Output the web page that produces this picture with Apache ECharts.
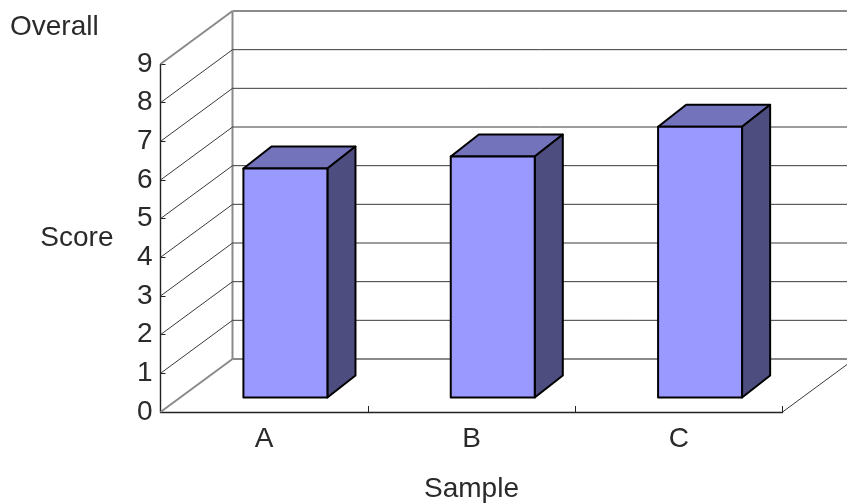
<!DOCTYPE html>
<html><head><meta charset="utf-8">
<style>html,body{margin:0;padding:0;background:#fff}#c{width:847px;height:504px}</style>
<script src="https://cdn.jsdelivr.net/npm/echarts@6/dist/echarts.min.js"></script>
</head><body><div id="c"></div>
<script>
const categories = ['A', 'B', 'C'];
const scores = [5.92, 6.23, 7.0];
const levels = [0, 1, 2, 3, 4, 5, 6, 7, 8, 9];
const DX = 72, DY = -53;
const FONT = '"Liberation Sans", Arial, sans-serif';
const FS = 28;
const chart = echarts.init(document.getElementById('c'), null, {renderer: 'canvas'});

function wallItem(params, api) {
  const lv = api.value(0), cs = params.coordSys;
  const p = api.coord([0, lv]);
  const y = p[1], x0 = cs.x, x1 = cs.x + cs.width;
  const edge = lv === 0 || lv === 9;
  const grey = {stroke: '#8a8a8a', lineWidth: 2, fill: null};
  const thin = {stroke: '#3a3a3a', lineWidth: 1, fill: null};
  const kids = [
    {type: 'line', shape: {x1: x0, y1: y, x2: x0 + DX, y2: y + DY}, style: edge ? grey : thin},
    {type: 'line', shape: {x1: x0 + DX, y1: y + DY, x2: x1 + DX, y2: y + DY}, style: edge ? grey : thin}
  ];
  if (lv === 0) {
    kids.push({type: 'line', shape: {x1: x1, y1: y, x2: x1 + DX, y2: y + DY}, style: thin});
    const top = api.coord([0, 9])[1];
    kids.push({type: 'line', shape: {x1: x0 + DX, y1: y + DY, x2: x0 + DX, y2: top + DY}, style: grey});
  }
  return {type: 'group', children: kids};
}

function barItem(params, api) {
  const c = api.coord([api.value(0), api.value(1)]);
  const base = api.coord([api.value(0), 0]);
  const band = api.size([1, 0])[0];
  const w = band * 0.405;
  const fx = DX * 0.295, fy = DY * 0.275, dx = DX * 0.39, dy = DY * 0.415;
  const l = c[0] + fx - w / 2, r = l + w, t = c[1] + fy, b = base[1] + fy;
  const stroke = {stroke: '#000', lineWidth: 2, lineJoin: 'round'};
  return {type: 'group', children: [
    {type: 'polygon', shape: {points: [[l, t], [r, t], [r + dx, t + dy], [l + dx, t + dy]]},
     style: Object.assign({fill: '#7373bc'}, stroke)},
    {type: 'polygon', shape: {points: [[r, t], [r + dx, t + dy], [r + dx, b + dy], [r, b]]},
     style: Object.assign({fill: '#4d4d80'}, stroke)},
    {type: 'polygon', shape: {points: [[l, t], [r, t], [r, b], [l, b]]},
     style: Object.assign({fill: '#9999ff'}, stroke)}
  ]};
}

const textBase = {fontFamily: FONT, fontSize: FS, fontWeight: 'normal', color: '#2a2a2a'};
chart.setOption({
  animation: false,
  backgroundColor: '#fff',
  textStyle: {fontFamily: FONT},
  title: {text: 'Overall', left: 5, top: 8, textStyle: textBase},
  grid: {left: 160.5, top: 64, width: 622, height: 348, containLabel: false, outerBoundsMode: 'none'},
  xAxis: {
    type: 'category', data: categories,
    name: 'Sample', nameLocation: 'middle', nameGap: 63,
    nameTextStyle: textBase,
    axisLine: {onZero: false, lineStyle: {color: '#222', width: 1.4}},
    axisTick: {show: true, inside: true, length: 6, lineStyle: {color: '#222', width: 1}},
    axisLabel: Object.assign({margin: 13}, textBase),
    splitLine: {show: false}
  },
  yAxis: {
    type: 'value', min: 0, max: 9, interval: 1,
    name: 'Score', nameLocation: 'middle', nameRotate: 0, nameGap: 47,
    nameTextStyle: Object.assign({padding: [7, 0, 0, 0]}, textBase),
    axisLine: {show: true, lineStyle: {color: '#222', width: 1.4}},
    axisTick: {show: true, inside: true, length: 5, lineStyle: {color: '#222', width: 1}},
    axisLabel: Object.assign({margin: 8, padding: [4, 0, 0, 0]}, textBase),
    splitLine: {show: false}
  },
  series: [
    {type: 'custom', name: 'walls', data: levels.map(v => [v]), renderItem: wallItem,
     clip: false, z: 1, encode: {y: 0}, silent: true},
    {type: 'custom', name: 'Score', data: categories.map((c, i) => [i, scores[i]]), renderItem: barItem,
     clip: false, z: 5, encode: {x: 0, y: 1}, silent: true}
  ]
});
</script></body></html>
